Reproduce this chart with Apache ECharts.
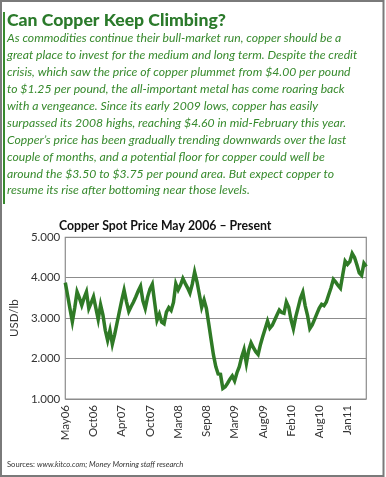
<!DOCTYPE html>
<html>
<head>
<meta charset="utf-8">
<script src="https://cdn.jsdelivr.net/npm/echarts@6/dist/echarts.min.js"></script>
<style>
html,body{margin:0;padding:0;background:#fff;}
#c{width:386px;height:477px;}
</style>
</head>
<body>
<div id="c"></div>
<script>
// ---- data ----
const tickLabels = ['May06','Oct06','Apr07','Oct07','Mar08','Sep08','Mar09','Aug09','Feb10','Aug10','Jan11'];
const pointsPerTick = 12;
const copperPrice = [
  3.88,3.56,3.23,2.91,3.25,3.65,3.50,3.32,3.50,3.65,3.24,3.38,
  3.53,3.25,2.97,3.33,3.08,2.70,2.45,2.70,2.36,2.60,2.88,3.16,
  3.44,3.69,3.41,3.17,3.29,3.40,3.53,3.67,3.79,3.43,3.24,3.52,
  3.72,3.84,3.39,2.95,3.10,2.90,2.86,3.15,3.26,3.19,3.39,3.85,
  3.70,3.82,3.98,3.86,3.75,3.62,3.84,4.14,3.90,3.59,3.27,3.45,
  3.24,2.86,2.47,2.09,1.80,1.62,1.61,1.26,1.30,1.39,1.49,1.57,
  1.45,1.65,1.80,2.04,2.22,1.88,2.20,2.39,2.27,2.17,2.10,2.35,
  2.55,2.74,2.93,2.75,2.82,2.95,3.08,3.20,3.14,3.12,3.40,3.27,
  2.96,2.74,3.03,3.26,3.49,3.64,3.31,3.07,2.74,2.83,2.97,3.11,
  3.25,3.34,3.31,3.40,3.58,3.75,3.96,3.89,3.81,3.74,4.08,4.41,
  4.33,4.40,4.60,4.50,4.32,4.12,4.06,4.36,4.28
];
const yTicks = [1, 2, 3, 4, 5];
const headline = 'Can Copper Keep Climbing?';
const bodyLines = [
  'As commodities continue their bull-market run, copper should be a',
  'great place to invest for the medium and long term. Despite the credit',
  'crisis, which saw the price of copper plummet from $4.00 per pound',
  'to $1.25 per pound, the all-important metal has come roaring back',
  'with a vengeance. Since its early 2009 lows, copper has easily',
  'surpassed its 2008 highs, reaching $4.60 in mid-February this year.',
  'Copper\u2019s price has been gradually trending downwards over the last',
  'couple of months, and a potential floor for copper could well be',
  'around the $3.50 to $3.75 per pound area. But expect copper to',
  'resume its rise after bottoming near those levels.'
];
const chartTitle = 'Copper Spot Price May 2006 \u2013 Present';
const yAxisName = 'USD/lb';
const sourceLabel = 'Sources:';
const sourceText = 'www.kitco.com; Money Morning staff research';

// categories built from tick labels (one per data point)
const categories = copperPrice.map((v, i) =>
  i % pointsPerTick === 0 && tickLabels[i / pointsPerTick] ? tickLabels[i / pointsPerTick] : ('p' + i));

const green = '#2f7a26';
const textGreen = '#378a2d';
const font = 'Lato, "Open Sans", sans-serif';

const chart = echarts.init(document.getElementById('c'), null, {renderer: 'canvas'});
chart.setOption({
  animation: false,
  backgroundColor: '#fff',
  grid: {
    left: 59.3, right: 19.7, top: 237.3, bottom: 78,
    show: true, borderColor: '#8c8c8c', borderWidth: 1.2, containLabel: false
  },
  xAxis: {
    type: 'category',
    data: categories,
    boundaryGap: false,
    axisLine: {show: false},
    axisTick: {show: false},
    splitLine: {show: false},
    axisLabel: {
      interval: (idx) => idx % pointsPerTick === 0,
      rotate: 90,
      margin: 6,
      fontSize: 11.5,
      fontFamily: font,
      color: '#333',
      padding: [8, 0, 0, 0],
      formatter: (v) => (tickLabels.indexOf(v) >= 0 ? v : '')
    }
  },
  yAxis: {
    type: 'value',
    min: yTicks[0], max: yTicks[yTicks.length - 1], interval: 1,
    name: yAxisName,
    nameLocation: 'middle',
    nameGap: 40,
    nameTextStyle: {fontSize: 11.5, fontFamily: font, color: '#333'},
    axisLine: {show: false},
    axisTick: {show: false},
    splitLine: {show: true, lineStyle: {color: '#8c8c8c', width: 1.2}},
    axisLabel: {
      fontSize: 11.5, fontFamily: font, color: '#333', margin: 5,
      formatter: (v) => v.toFixed(3)
    }
  },
  series: [{
    type: 'line',
    data: copperPrice,
    symbol: 'none',
    lineStyle: {color: green, width: 3.5, join: 'miter'},
    z: 3
  }],
  graphic: [
    {type: 'rect', shape: {x: 1, y: 1, width: 382.5, height: 475}, style: {fill: 'none', stroke: '#7a7a7a', lineWidth: 2}, silent: true},
    {type: 'rect', shape: {x: 3, y: 12, width: 2, height: 192}, style: {fill: textGreen}, silent: true},
    {type: 'text', left: 7, top: 11, style: {text: headline, font: '900 17.6px ' + font, fill: '#2b7a2b'}},
    {type: 'text', left: 7, top: 30, style: {text: bodyLines.join('\n'), font: 'italic 12.2px ' + font, lineHeight: 16.9, fill: textGreen}},
    {type: 'text', left: 59, top: 220, style: {text: chartTitle, font: 'bold 12.3px ' + font, fill: '#111'}},
    {type: 'text', left: 7, top: 461, style: {
      text: '{a|' + sourceLabel + ' }{b|' + sourceText + '}',
      rich: {
        a: {fontSize: 7.6, fontFamily: font, fill: '#333', color: '#333'},
        b: {fontSize: 7.6, fontFamily: font, fontStyle: 'italic', fill: '#333', color: '#333'}
      }
    }}
  ]
});
</script>
</body>
</html>
